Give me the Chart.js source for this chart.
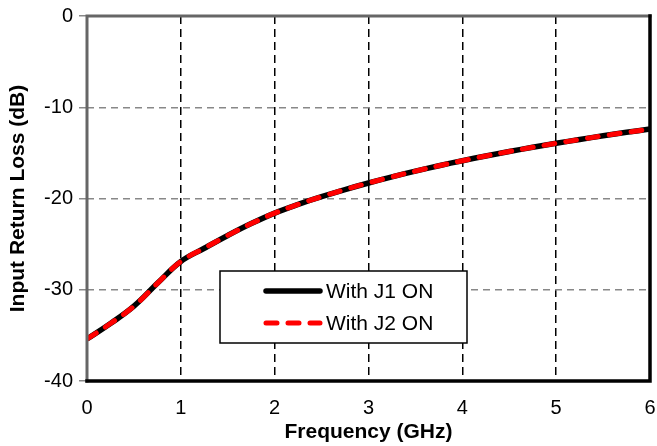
<!DOCTYPE html>
<html>
<head>
<meta charset="utf-8">
<script src="https://cdn.jsdelivr.net/npm/chart.js@4.4.1/dist/chart.umd.min.js"></script>
<style>
html,body{margin:0;padding:0;background:#fff;}
canvas{display:block;}
</style>
</head>
<body>
<canvas id="c" width="657" height="446"></canvas>
<script>
const freqGHz = [0, 0.25, 0.5, 0.75, 1.0, 1.25, 1.5, 1.75, 2.0, 2.25, 2.5, 2.75, 3.0, 3.25, 3.5, 3.75, 4.0, 4.25, 4.5, 4.75, 5.0, 5.25, 5.5, 5.75, 6.0];
const lossJ1 = [-35.4, -33.7, -31.8, -29.3, -26.9, -25.45, -24.05, -22.75, -21.6, -20.65, -19.8, -19.02, -18.3, -17.63, -17.0, -16.41, -15.86, -15.34, -14.85, -14.39, -13.95, -13.53, -13.13, -12.75, -12.39];
const lossJ2 = [-35.4, -33.7, -31.8, -29.3, -26.9, -25.45, -24.05, -22.75, -21.6, -20.65, -19.8, -19.02, -18.3, -17.63, -17.0, -16.41, -15.86, -15.34, -14.85, -14.39, -13.95, -13.53, -13.13, -12.75, -12.39];
const xTicks = [0, 1, 2, 3, 4, 5, 6];
const yTicks = [0, -10, -20, -30, -40];
const seriesLabels = ['With J1 ON', 'With J2 ON'];
const xTitle = 'Frequency (GHz)';
const yTitle = 'Input Return Loss (dB)';

const toXY = (xs, ys) => xs.map((x, i) => ({x: x, y: ys[i]}));

const framePlugin = {
  id: 'frame',
  afterDatasetsDraw(chart) {
    const {ctx, chartArea: a} = chart;
    ctx.save();
    ctx.lineCap = 'square';
    ctx.strokeStyle = '#666';
    ctx.lineWidth = 3;
    ctx.beginPath();
    ctx.moveTo(a.left, a.bottom);
    ctx.lineTo(a.left, a.top);
    ctx.lineTo(a.right, a.top);
    ctx.stroke();
    ctx.strokeStyle = '#000';
    ctx.lineWidth = 3.5;
    ctx.beginPath();
    ctx.moveTo(a.right, a.top);
    ctx.lineTo(a.right, a.bottom);
    ctx.lineTo(a.left, a.bottom);
    ctx.stroke();
    ctx.restore();
  }
};

const legendPlugin = {
  id: 'boxLegend',
  afterDraw(chart) {
    const ctx = chart.ctx;
    const bx = 220, by = 271, bw = 247, bh = 72;
    ctx.save();
    ctx.fillStyle = '#fff';
    ctx.fillRect(bx, by, bw, bh);
    ctx.strokeStyle = '#000';
    ctx.lineWidth = 1.5;
    ctx.strokeRect(bx, by, bw, bh);
    const rows = [291, 323];
    chart.data.datasets.forEach((ds, i) => {
      const y = rows[i];
      ctx.strokeStyle = ds.borderColor;
      ctx.lineWidth = ds.borderWidth;
      ctx.lineCap = 'round';
      ctx.setLineDash(ds.borderDash || []);
      ctx.beginPath();
      ctx.moveTo(266, y);
      ctx.lineTo(320, y);
      ctx.stroke();
      ctx.setLineDash([]);
      ctx.fillStyle = '#000';
      ctx.font = '21px Arial, "Liberation Sans", sans-serif';
      ctx.textBaseline = 'middle';
      ctx.textAlign = 'left';
      ctx.fillText(ds.label, 326, y + 1);
    });
    ctx.restore();
  }
};

new Chart(document.getElementById('c'), {
  type: 'line',
  data: {
    datasets: [
      {
        label: seriesLabels[0],
        data: toXY(freqGHz, lossJ1),
        borderColor: '#000000',
        borderWidth: 5.5,
        pointRadius: 0,
        tension: 0.4,
        order: 2
      },
      {
        label: seriesLabels[1],
        data: toXY(freqGHz, lossJ2),
        borderColor: '#ff0000',
        borderWidth: 5,
        borderDash: [11, 11],
        borderCapStyle: 'round',
        pointRadius: 0,
        tension: 0.4,
        order: 1
      }
    ]
  },
  options: {
    responsive: false,
    animation: false,
    devicePixelRatio: 1,
    layout: {padding: {top: 16, right: 7, left: 0, bottom: 0}},
    plugins: {legend: {display: false}, tooltip: {enabled: false}},
    scales: {
      x: {
        type: 'linear',
        min: 0, max: 6,
        afterBuildTicks: s => { s.ticks = xTicks.map(v => ({value: v})); },
        afterFit: s => { s.height = 65; s.paddingLeft = 0; s.paddingRight = 0; },
        ticks: {
          color: '#000',
          font: {family: 'Arial, "Liberation Sans", sans-serif', size: 20},
          padding: 15,
          maxRotation: 0
        },
        grid: {
          color: '#000',
          lineWidth: 1.5,
          drawTicks: false,
          tickLength: 0
        },
        border: {display: false, dash: [8, 5]},
        title: {
          display: true,
          text: xTitle,
          color: '#000',
          font: {family: 'Arial, "Liberation Sans", sans-serif', size: 21, weight: 'bold'},
          padding: {top: 0, bottom: 1}
        }
      },
      y: {
        type: 'linear',
        min: -40, max: 0,
        afterBuildTicks: s => { s.ticks = yTicks.map(v => ({value: v})); },
        afterFit: s => { s.width = 87; s.paddingTop = 0; s.paddingBottom = 0; },
        ticks: {
          color: '#000',
          font: {family: 'Arial, "Liberation Sans", sans-serif', size: 20},
          padding: 6
        },
        grid: {
          color: '#888',
          lineWidth: 1.5,
          drawTicks: true,
          tickLength: 8,
          tickColor: '#888',
          tickWidth: 1.5
        },
        border: {display: false, dash: [7, 5]},
        title: {
          display: true,
          text: yTitle,
          color: '#000',
          font: {family: 'Arial, "Liberation Sans", sans-serif', size: 21, weight: 'bold'},
          padding: {top: 6, bottom: 0}
        }
      }
    }
  },
  plugins: [framePlugin, legendPlugin]
});
</script>
</body>
</html>
